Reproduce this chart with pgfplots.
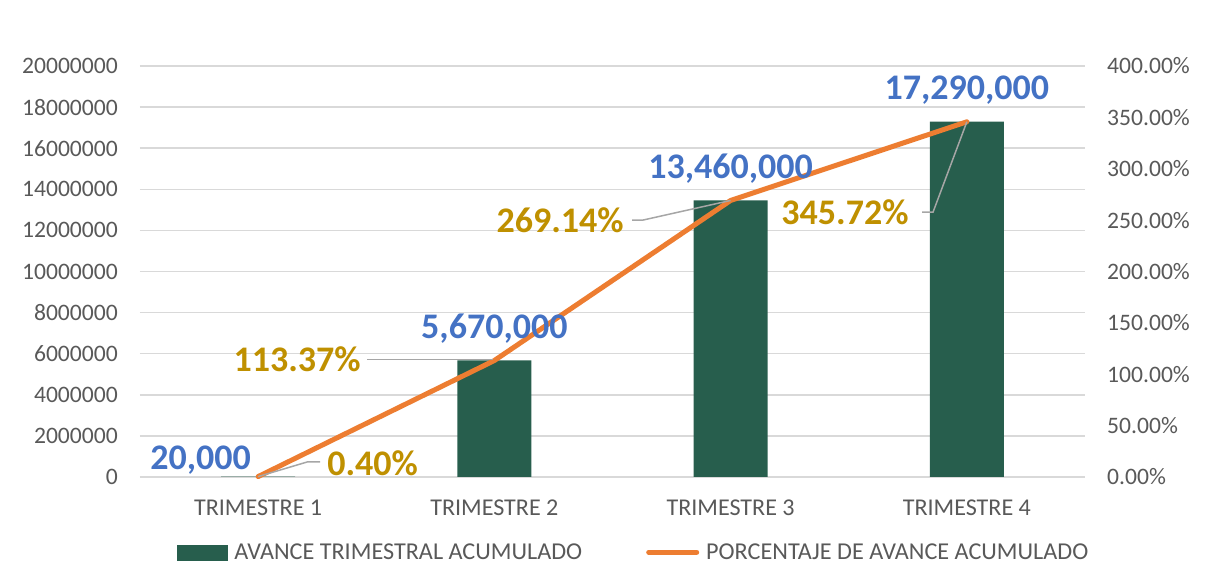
\documentclass[border=0pt]{standalone}
\usepackage{fontspec}
\setmainfont{Carlito}
\usepackage{pgfplots}
\pgfplotsset{compat=1.18}
\definecolor{barcol}{RGB}{39,94,77}
\definecolor{ororange}{RGB}{237,125,49}
\definecolor{lblblue}{RGB}{68,114,196}
\definecolor{lblgold}{RGB}{191,144,0}
\definecolor{tickgray}{RGB}{89,89,89}
\definecolor{gridgray}{RGB}{217,217,217}
\definecolor{leadgray}{RGB}{166,166,166}
\tikzset{
  blab/.style={font=\fontsize{36}{40}\selectfont\bfseries, text=lblblue, inner sep=0pt},
  glab/.style={font=\fontsize{36}{40}\selectfont\bfseries, text=lblgold, inner sep=0pt},
  lead/.style={draw=leadgray, line width=1.5pt},
}
\begin{document}
\begin{tikzpicture}[x=1pt,y=1pt]
\useasboundingbox (0,0) rectangle (1211,565);
\pgfplotsset{
  base/.style={
    scale only axis, width=945pt, height=411pt,
    at={(140pt,88pt)}, anchor=south west,
    xmin=-0.5, xmax=3.5, ymin=0,
    major tick length=0pt,
    tick label style={font=\fontsize{23.6}{28}\selectfont, text=tickgray, inner sep=0pt},
    axis line style={draw=none},
    clip=false,
  },
}
\begin{axis}[base,
  ymax=20000000,
  ytick={0,2000000,4000000,6000000,8000000,10000000,12000000,14000000,16000000,18000000,20000000},
  yticklabels={0,2000000,4000000,6000000,8000000,10000000,12000000,14000000,16000000,18000000,20000000},
  scaled y ticks=false,
  ymajorgrids, grid style={draw=gridgray, line width=1.5pt},
  xtick={0,1,2,3},
  xticklabels={TRIMESTRE 1,TRIMESTRE 2,TRIMESTRE 3,TRIMESTRE 4},
  xticklabel style={yshift=-22.5pt, font=\fontsize{24.1}{28}\selectfont},
  yticklabel style={xshift=-22pt},
]
\addplot[ybar, bar width=74pt, fill=barcol, draw=none] coordinates {(0,20000) (1,5670000) (2,13460000) (3,17290000)};
\end{axis}
\begin{axis}[base,
  ymax=400,
  axis y line*=right, hide x axis,
  ytick={0,50,100,150,200,250,300,350,400},
  yticklabels={0.00\%,50.00\%,100.00\%,150.00\%,200.00\%,250.00\%,300.00\%,350.00\%,400.00\%},
  yticklabel style={xshift=22pt},
  legend columns=2,
  legend cell align=left,
  legend style={at={(0.0392,-0.183)}, anchor=west, draw=none, fill=none,
    inner sep=0pt, outer sep=0pt,
    font=\fontsize{24.2}{28}\selectfont, text=tickgray,
    nodes={inner sep=0pt},
    /tikz/every odd column/.style={column sep=7pt},
    /tikz/every even column/.style={column sep=64pt}},
]
\addlegendimage{legend image code/.code={\fill[barcol] (0pt,-7.5pt) rectangle (50pt,7.5pt);}}
\addlegendentry{AVANCE TRIMESTRAL ACUMULADO}
\addplot[ororange, line width=5pt, line join=round, line cap=round, mark=none,
  legend image code/.code={\draw[ororange, line width=5pt, line cap=round] (2.5pt,0pt) -- (50.5pt,0pt);}]
  coordinates {(0,0.40) (1,113.37) (2,269.14) (3,345.72)};
\addlegendentry{PORCENTAJE DE AVANCE ACUMULADO}
% leader lines
\draw[lead] (axis cs:0,0.4) -- (axis cs:0.2074,14.6) -- (axis cs:0.2624,14.6);
\draw[lead] (axis cs:0.4614,114.5) -- (axis cs:0.995,114.5);
\draw[lead] (axis cs:1.583,250.1) -- (axis cs:1.630,250.1) -- (axis cs:2,269.14);
\draw[lead] (axis cs:2.8106,257.9) -- (axis cs:2.857,257.9) -- (axis cs:3,345.72);
% value labels
\node[blab, anchor=base east] at (axis cs:-0.03,7.5) {20,000};
\node[blab, anchor=base] at (axis cs:1,113.4) [yshift=22pt] {5,670,000};
\node[blab, anchor=base] at (axis cs:2,269.2) [yshift=22pt] {13,460,000};
\node[blab, anchor=base] at (axis cs:3,345.8) [yshift=22pt] {17,290,000};
% percentage labels
\node[glab, anchor=base west] at (axis cs:0.292,1.9) {0.40\%};
\node[glab, anchor=base east] at (axis cs:0.435,102.5) {113.37\%};
\node[glab, anchor=base east] at (axis cs:1.548,237.5) {269.14\%};
\node[glab, anchor=base west] at (axis cs:2.214,245.3) {345.72\%};
\end{axis}
\end{tikzpicture}
\end{document}
